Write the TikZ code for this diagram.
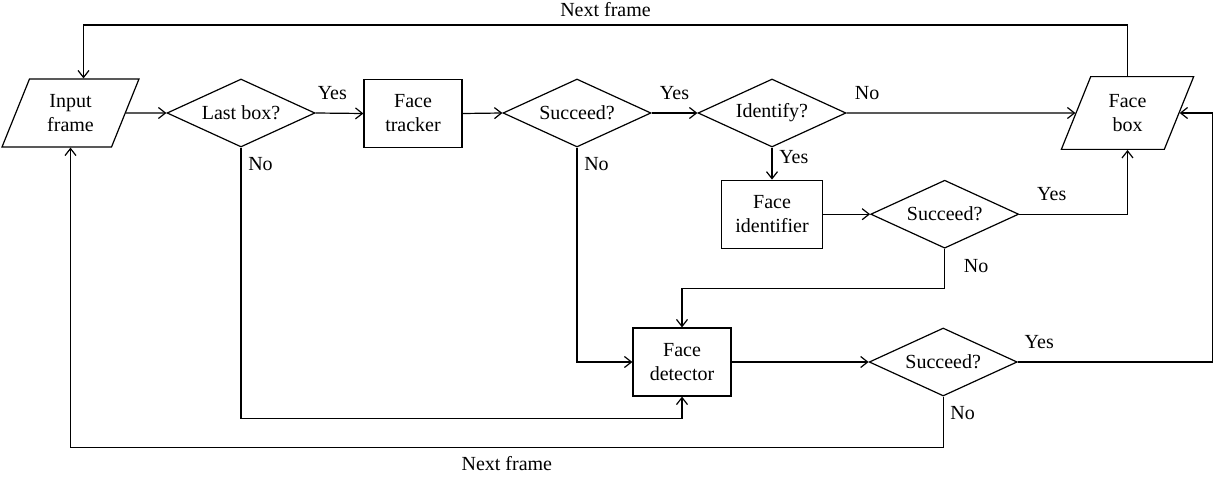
\documentclass[tikz,border=0pt]{standalone}
\usepackage{fontspec}
\setmainfont{Liberation Serif}
\usetikzlibrary{shapes.geometric,arrows.meta,positioning,calc}

\tikzset{
  block/.style={draw, rectangle, minimum width=49pt, minimum height=34pt, align=center, inner sep=2pt},
  decision/.style={draw, diamond, aspect=2.18, minimum width=74pt, minimum height=34pt, inner sep=0pt},
  io/.style={draw, trapezium, trapezium left angle=68, trapezium right angle=112,
    minimum width=66.5pt, minimum height=34pt, align=center, inner sep=2pt},
  nolab/.style={below right, yshift=-1.5pt}
}

\begin{document}
\begin{tikzpicture}[x=0.5pt, y=-0.5pt, line width=0.6pt, >={Straight Barb[length=3.5pt,width=5.5pt]}]
  \useasboundingbox (0,0) rectangle (1219,476);
  % top row
  \node (inframe) [io] at (70.5,113) {Input\\frame};
  \node (lastbox) [decision] at (241,113) {Last box?};
  \node (tracker) [block] at (413,113.5) {Face\\tracker};
  \node (succA) [decision] at (577,113) {Succeed?};
  \node (identify) [decision] at (772,113) {Identify?};
  \node (facebox) [io] at (1127.5,113) {Face\\box};
  % identification branch
  \node (identifier) [block, minimum width=50.5pt, below=16pt of identify] {Face\\identifier};
  \node (succB) [decision, right=23.5pt of identifier] {Succeed?};
  % detection branch
  \node (detector) [block] at (682,362) {Face\\detector};
  \node (succC) [decision, right=68.5pt of detector] {Succeed?};

  \draw[->] (inframe.east) -- (lastbox.west);
  \draw[->] (lastbox.east) -- node[above=3pt, pos=0.35] {Yes} (tracker.west);
  \draw[->] (tracker.east) -- (succA.west);
  \draw[->] (succA.east) -- node[above=3pt] {Yes} (identify.west);
  \draw[->] (identify.east) -- node[above=3pt, pos=0.09] {No} (facebox.west);
  \draw[->] (identify.south) -- node[right, pos=0.3] {Yes} (identifier.north);
  \draw[->] (identifier.east) -- (succB.west);
  \draw[->] (succB.east) -| node[above=3pt, pos=0.15] {Yes} (facebox.center |- facebox.south);
  \draw[->] (succB.south) -- node[nolab, pos=0, xshift=6pt] {No} ++(0,40) -| (detector.north);
  \draw[->] (succA.south) -- node[nolab, pos=0] {No} (succA.south |- detector.west) -- (detector.west);
  \draw[->] (lastbox.south) -- node[nolab, pos=0] {No} ++(0,271) -| (detector.south);
  \draw[->] (detector.east) -- (succC.west);
  \draw[->] (succC.east) -- node[above=3pt, pos=0.11] {Yes} ++(195,0) |- (facebox.east);
  % next frame loops
  \draw[->] (succC.south) -- node[nolab, pos=0] {No} ++(0,51)
    -| node[below=1pt, pos=0.25] {Next frame} (inframe.center |- inframe.south);
  \draw[->] (facebox.center |- facebox.north) -- ++(0,-51)
    -| node[above=0.5pt, pos=0.25] {Next frame} ([xshift=6.5pt]inframe.center |- inframe.north);
\end{tikzpicture}
\end{document}
